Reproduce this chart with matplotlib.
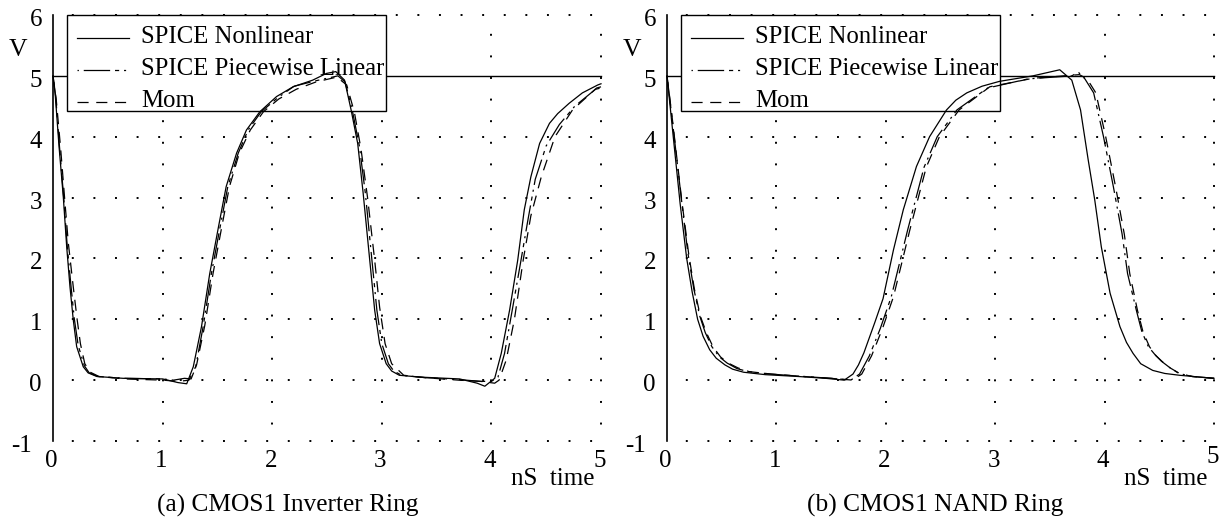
import matplotlib
matplotlib.use('Agg')
import matplotlib.pyplot as plt
from matplotlib.patches import Rectangle
from matplotlib.lines import Line2D

plt.rcParams['font.family'] = ['Liberation Serif', 'DejaVu Serif']
plt.rcParams['lines.scale_dashes'] = False

# ---------------- data ----------------
series_labels = ["SPICE Nonlinear", "SPICE Piecewise Linear", "Mom"]
panel_titles = ["(a) CMOS1 Inverter Ring", "(b) CMOS1 NAND Ring"]
y_ticks = [-1, 0, 1, 2, 3, 4, 5, 6]
x_ticks = [0, 1, 2, 3, 4, 5]

# (a) Inverter ring
inv_nl_t = [0.0, 0.02, 0.055, 0.094, 0.125, 0.155, 0.185, 0.216, 0.276, 0.32, 0.40, 0.64, 1.0, 1.14, 1.22,
            1.28, 1.355, 1.43, 1.51, 1.58, 1.675, 1.765, 1.887, 2.04, 2.19, 2.37, 2.495, 2.58, 2.66, 2.72,
            2.78, 2.83, 2.89, 2.935, 2.98, 3.04, 3.09, 3.16, 3.35, 3.71, 3.87, 3.94, 4.03, 4.09, 4.166,
            4.24, 4.30, 4.36, 4.44, 4.53, 4.605, 4.71, 4.83, 4.97, 5.0]
inv_nl_v = [5.0, 4.7, 3.84, 3.01, 2.19, 1.53, 0.99, 0.55, 0.22, 0.12, 0.06, 0.03, 0.02, -0.04, -0.06,
            0.22, 0.88, 1.75, 2.52, 3.18, 3.73, 4.11, 4.41, 4.66, 4.82, 4.93, 5.04, 5.07, 4.93, 4.44,
            3.89, 3.07, 1.97, 1.15, 0.6, 0.27, 0.15, 0.08, 0.05, 0.02, -0.05, -0.1, 0.03, 0.44, 1.15,
            1.97, 2.8, 3.34, 3.89, 4.22, 4.38, 4.55, 4.72, 4.85, 4.87]

inv_pwl_t = [0.0, 0.025, 0.06, 0.10, 0.13, 0.165, 0.195, 0.23, 0.285, 0.33, 0.41, 0.65, 1.0, 1.1, 1.2,
             1.26, 1.30, 1.37, 1.445, 1.525, 1.595, 1.69, 1.78, 1.90, 2.05, 2.2, 2.4, 2.6, 2.665, 2.73,
             2.795, 2.85, 2.91, 2.955, 3.0, 3.06, 3.11, 3.18, 3.4, 3.7, 3.9, 4.0, 4.06, 4.12, 4.19,
             4.27, 4.33, 4.40, 4.5, 4.62, 4.76, 4.95, 5.0]
inv_pwl_v = [5.0, 4.65, 3.82, 2.95, 2.2, 1.53, 1.0, 0.57, 0.24, 0.12, 0.06, 0.03, 0.02, 0.0, 0.03,
             0.02, 0.2, 0.88, 1.75, 2.52, 3.18, 3.73, 4.11, 4.41, 4.64, 4.83, 4.92, 5.0, 4.9, 4.44,
             3.85, 3.07, 1.97, 1.15, 0.6, 0.27, 0.15, 0.08, 0.04, 0.01, -0.02, -0.02, 0.05, 0.44, 1.15,
             1.97, 2.6, 3.3, 3.85, 4.2, 4.5, 4.78, 4.8]

inv_mom_t = [0.0, 0.03, 0.07, 0.11, 0.14, 0.185, 0.22, 0.25, 0.29, 0.34, 0.42, 0.65, 1.0, 1.15, 1.24,
             1.31, 1.385, 1.46, 1.54, 1.61, 1.70, 1.80, 1.92, 2.06, 2.22, 2.40, 2.59, 2.68, 2.75, 2.81,
             2.87, 2.935, 2.98, 3.03, 3.09, 3.2, 3.4, 3.7, 3.9, 4.03, 4.07, 4.135, 4.21, 4.29, 4.36,
             4.455, 4.58, 4.74, 4.96, 5.0]
inv_mom_v = [5.0, 4.6, 3.8, 2.9, 2.25, 1.53, 1.0, 0.6, 0.27, 0.13, 0.06, 0.02, 0.0, -0.02, 0.0,
             0.25, 0.9, 1.75, 2.52, 3.18, 3.73, 4.11, 4.41, 4.62, 4.78, 4.9, 4.98, 4.85, 4.4, 3.8,
             3.0, 1.97, 1.2, 0.6, 0.27, 0.08, 0.04, 0.0, -0.02, -0.05, 0.0, 0.33, 1.0, 1.97, 2.7,
             3.34, 4.0, 4.44, 4.8, 4.82]

# (b) NAND ring
nand_nl_t = [0.0, 0.04, 0.08, 0.12, 0.18, 0.23, 0.28, 0.33, 0.39, 0.45, 0.53, 0.6, 0.7, 0.9, 1.2,
             1.45, 1.62, 1.7, 1.75, 1.8, 1.9, 1.975, 2.07, 2.16, 2.28, 2.40, 2.555, 2.64, 2.74, 2.88,
             3.04, 3.345, 3.59, 3.70, 3.78, 3.85, 3.91, 3.97, 4.05, 4.14, 4.2, 4.26, 4.33, 4.44, 4.55,
             4.685, 5.0]
nand_nl_v = [5.0, 4.3, 3.6, 2.9, 2.0, 1.45, 1.0, 0.72, 0.5, 0.36, 0.25, 0.18, 0.13, 0.09, 0.06,
             0.03, 0.0, 0.1, 0.25, 0.45, 0.95, 1.34, 2.14, 2.8, 3.51, 4.0, 4.44, 4.6, 4.72, 4.83,
             4.91, 5.0, 5.1, 4.93, 4.44, 3.62, 2.96, 2.19, 1.43, 0.88, 0.62, 0.44, 0.27, 0.16, 0.11,
             0.08, 0.03]

nand_pwl_t = [0.0, 0.04, 0.085, 0.13, 0.19, 0.245, 0.3, 0.35, 0.41, 0.48, 0.55, 0.64, 0.74, 0.95, 1.25,
              1.5, 1.68, 1.76, 1.85, 1.95, 2.05, 2.2, 2.35, 2.47, 2.65, 2.93, 3.3, 3.7, 3.76, 3.82,
              3.9, 3.99, 4.08, 4.16, 4.21, 4.29, 4.34, 4.40, 4.46, 4.52, 4.6, 4.68, 4.8, 5.0]
nand_pwl_v = [5.0, 4.4, 3.7, 3.0, 2.1, 1.5, 1.05, 0.78, 0.55, 0.38, 0.28, 0.19, 0.14, 0.1, 0.06,
              0.03, 0.0, 0.1, 0.4, 0.85, 1.37, 2.47, 3.5, 4.0, 4.44, 4.8, 4.95, 5.0, 5.06, 4.95,
              4.72, 4.0, 3.18, 2.4, 1.75, 1.15, 0.8, 0.55, 0.42, 0.31, 0.2, 0.11, 0.06, 0.03]

nand_mom_t = [0.0, 0.045, 0.09, 0.135, 0.2, 0.25, 0.305, 0.36, 0.42, 0.49, 0.56, 0.65, 0.75, 0.95, 1.25,
              1.5, 1.7, 1.78, 1.87, 1.97, 2.07, 2.22, 2.37, 2.49, 2.67, 2.95, 3.345, 3.77, 3.84, 3.92,
              4.01, 4.10, 4.18, 4.23, 4.30, 4.35, 4.41, 4.47, 4.53, 4.6, 4.685, 4.8, 5.0]
nand_mom_v = [5.0, 4.35, 3.65, 2.95, 2.05, 1.5, 1.05, 0.78, 0.55, 0.38, 0.28, 0.2, 0.14, 0.1, 0.06,
              0.03, 0.0, 0.1, 0.4, 0.85, 1.37, 2.47, 3.5, 4.0, 4.44, 4.82, 4.96, 5.02, 4.95, 4.72,
              4.0, 3.18, 2.4, 1.75, 1.15, 0.8, 0.55, 0.4, 0.3, 0.2, 0.11, 0.06, 0.03]

# ---------------- styles ----------------
STY_NL = dict(color='k', lw=0.9, linestyle='-')
STY_PWL = dict(color='k', lw=0.9, linestyle=(29.5, (19, 3.5, 3, 3.5, 1.5, 3.5)))
STY_MOM = dict(color='k', lw=0.9, linestyle=(0, (8, 5.5)))
DOT = (2.0, (1.4, 14.15))

W, H = 1225, 523
fig = plt.figure(figsize=(W / 100, H / 100), dpi=100)


def panel(x0, x1, title, title_x, title_ha, curves, last_raise=0):
    top, bot = 15, 441
    ax = fig.add_axes([x0 / W, (H - bot) / H, (x1 - x0) / W, (bot - top) / H])
    wpx, hpx = x1 - x0, bot - top
    ax.set_xlim(0, 5)
    ax.set_ylim(-1, 6)
    for s in ['top', 'right', 'bottom']:
        ax.spines[s].set_visible(False)
    ax.spines['left'].set_linewidth(1.2)
    ax.set_xticks([])
    ax.set_yticks([])
    ax.patch.set_alpha(0)

    # dotted grid
    for v in [-1, 0, 1, 2, 3, 4, 6]:
        ax.plot([0, 5], [v, v], color='k', lw=1.4, linestyle=DOT, dash_capstyle='butt',
                zorder=1, clip_on=False)
    for t in [1, 2, 3, 4, 5]:
        ax.plot([t, t], [6, -1], color='k', lw=1.4, linestyle=DOT, dash_capstyle='butt',
                zorder=1, clip_on=False)
    # supply level
    ax.plot([0, 5], [5, 5], color='k', lw=1.0, zorder=1.5, clip_on=False)

    # legend box (drawn below curves)
    bx0, bx1, by1 = 14 / wpx, 333 / wpx, 1 - 96 / hpx
    ax.add_patch(Rectangle((bx0, by1), bx1 - bx0, 1 - by1, transform=ax.transAxes,
                           facecolor='white', edgecolor='k', lw=1.0, zorder=2, clip_on=False))
    for i, (lab, sty) in enumerate(zip(series_labels, [STY_NL, STY_PWL, STY_MOM])):
        base = 28 + 32 * i  # baseline px below top
        yl = 1 - (base - 5) / hpx
        ax.add_line(Line2D([24 / wpx, 76 / wpx], [yl, yl], transform=ax.transAxes,
                           zorder=4, dash_capstyle='butt', **sty))
        ax.text(88 / wpx, 1 - base / hpx, lab, transform=ax.transAxes, ha='left',
                va='baseline', fontsize=17.8, zorder=4)

    # curves
    for (t, v), sty in zip(curves, [STY_NL, STY_PWL, STY_MOM]):
        ax.plot(t, v, zorder=3, clip_on=False, dash_capstyle='butt', **sty)

    # tick labels
    yt = ax.get_yaxis_transform()
    for v in y_ticks:
        xoff = -11 if v != -1 else -21
        ax.text(xoff / wpx, v - 11 / (hpx / 7), str(v), transform=yt, ha='right',
                va='baseline', fontsize=18)
    xt = ax.get_xaxis_transform()
    for t in x_ticks:
        dy = 26 if t != 5 else 26 - last_raise
        ax.text(t - 1.5 / (wpx / 5), -dy / hpx, str(t), transform=xt, ha='center',
                va='baseline', fontsize=18)
    ax.text(4.94, -44 / hpx, 'nS  time', transform=xt, ha='right', va='baseline', fontsize=18)
    ax.text(-35 / wpx, 1 - 41 / hpx, 'V', transform=ax.transAxes, ha='center',
            va='baseline', fontsize=18.5)
    fig.text(title_x / W, 1 - 512 / H, title, ha=title_ha, va='baseline', fontsize=18.3)
    return ax


panel(53, 601, panel_titles[0], 157, 'left',
      [(inv_nl_t, inv_nl_v), (inv_pwl_t, inv_pwl_v), (inv_mom_t, inv_mom_v)])
panel(667, 1214, panel_titles[1], 1063, 'right',
      [(nand_nl_t, nand_nl_v), (nand_pwl_t, nand_pwl_v), (nand_mom_t, nand_mom_v)],
      last_raise=4)

fig.savefig('out.png', dpi=100)
